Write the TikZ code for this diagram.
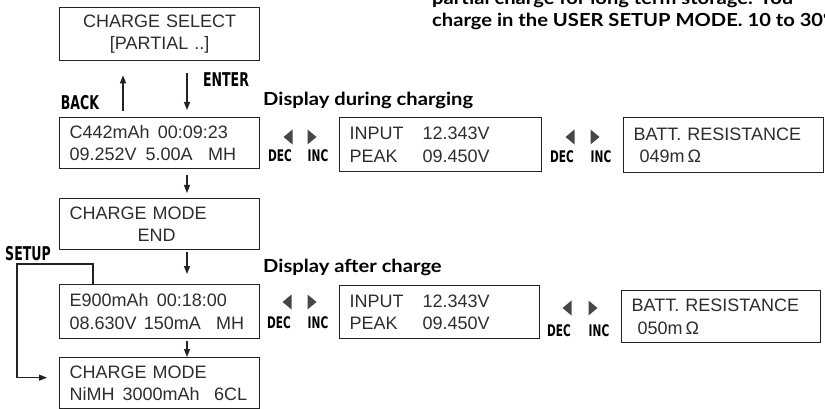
\documentclass[tikz,border=0pt]{standalone}
\usepackage{fontspec}
\setmainfont{Liberation Sans}
\newfontfamily\headfont[FakeStretch=1.12]{Lato}
\newfontfamily\tagfont[FakeStretch=0.66]{DejaVu Sans}
\usetikzlibrary{arrows.meta, positioning, calc}
\definecolor{lineColor}{RGB}{35,35,35}
\definecolor{textColor}{RGB}{45,45,45}
\definecolor{knobColor}{RGB}{70,70,70}

\begin{document}
\begin{tikzpicture}[
    x=1pt, y=-1pt,
    lcd/.style={
        draw=lineColor, line width=1.3pt, anchor=north west,
        inner xsep=10pt, inner ysep=0pt, text=textColor, align=left,
        font=\fontsize{18}{22.5}\selectfont
    },
    tag/.style={font=\tagfont\bfseries\fontsize{16}{16}\selectfont, inner sep=0pt},
    bigtag/.style={tag, font=\tagfont\bfseries\fontsize{19}{19}\selectfont},
    head/.style={font=\headfont\bfseries\fontsize{18}{22}\selectfont, anchor=west, inner sep=0pt},
    flow/.style={draw=lineColor, line width=1.3pt, -{Triangle[length=8pt, width=6pt]}}
]
    % Page: 825 x 409, y grows downwards.
    \clip (0,0) rectangle (825,409);

    % Note text cut off by the page edge.
    \node[head, anchor=base west] (note1) at (432,5) {partial charge for long term storage. You};
    \node[head, anchor=base west] (note2) at (432,27) {charge in the USER SETUP MODE. 10 to 30°};

    % Left column of displays.
    \node[lcd, text width=180pt, minimum height=53pt, align=center] (sel) at (59,7)
        {CHARGE SELECT\\{}[PARTIAL ..]};
    \node[lcd, text width=180pt, minimum height=51pt] (chg) at (59,117)
        {C442mAh\hspace{0.45em}00:09:23\\09.252V\hspace{0.5em}5.00A\hspace{0.85em}MH};
    \node[lcd, text width=180pt, minimum height=51pt] (end) at (59,198)
        {CHARGE MODE\\\hspace*{68pt}END};
    \node[lcd, text width=180pt, minimum height=54pt] (aft) at (59,284)
        {E900mAh\hspace{0.45em}00:18:00\\08.630V\hspace{0.4em}150mA\hspace{0.85em}MH};
    \node[lcd, text width=180pt, minimum height=51pt] (mode) at (59,357)
        {CHARGE MODE\\NiMH\hspace{0.45em}3000mAh\hspace{0.8em}6CL};

    % Displays reached with DEC / INC.
    \node[lcd, text width=182pt, minimum height=54pt] (inp1) at (339,117)
        {\makebox[73pt][l]{INPUT}12.343V\\\makebox[73pt][l]{PEAK}09.450V};
    \node[lcd, text width=180pt, minimum height=55pt] (res1) at (623,117)
        {BATT. RESISTANCE\\\hspace*{6pt}049m\,Ω};
    \node[lcd, text width=180pt, minimum height=53pt] (inp2) at (339,285)
        {\makebox[73pt][l]{INPUT}12.343V\\\makebox[73pt][l]{PEAK}09.450V};
    \node[lcd, text width=179pt, minimum height=52pt] (res2) at (621,290)
        {BATT. RESISTANCE\\\hspace*{6pt}050m\,Ω};

    % DEC / INC keys.
    \foreach \i/\xa/\xb/\y/\yt in {1/288/312/137/156, 2/570/595/137/157, 3/287/312/302/323, 4/567/593/308/331}{
        \fill[knobColor] (\xa-4.5,\y) -- ++(9,-7.5) -- ++(0,15) -- cycle;
        \fill[knobColor] (\xb+4.5,\y) -- ++(-9,-7.5) -- ++(0,15) -- cycle;
        \node[tag] (dec\i) at (\xa-8,\yt) {DEC};
        \node[tag] (inc\i) at (\xb+6,\yt) {INC};
    }

    % Labels.
    \node[bigtag] (back) at (80,103) {BACK};
    \node[bigtag] (enter) at (226,80) {ENTER};
    \node[bigtag] (setup) at (28,254) {SETUP};
    \node[head] (during) at (263,100) {Display during charging};
    \node[head] (after) at (263,267) {Display after charge};

    % Flow between displays.
    \draw[flow, shorten <=6pt, shorten >=14pt] ([xshift=64pt]chg.north west) -- ([xshift=64pt]sel.south west);
    \draw[flow, shorten <=12pt, shorten >=7pt] ([xshift=128pt]sel.south west) -- ([xshift=128pt]chg.north west);
    \draw[flow, shorten <=6pt, shorten >=5pt] ([xshift=128pt]chg.south west) -- ([xshift=128pt]end.north west);
    \draw[flow, shorten <=2pt, shorten >=10pt] ([xshift=128pt]end.south west) -- ([xshift=128pt]aft.north west);
    \draw[flow, shorten <=2pt] ([xshift=128pt]aft.south west) -- ([xshift=128pt]mode.north west);
    \coordinate (setupTurn) at (17,264);
    \draw[flow, shorten >=12pt] ([xshift=34pt]aft.north west) |- (setupTurn) |- ([yshift=5.5pt]mode.west);
\end{tikzpicture}
\end{document}
